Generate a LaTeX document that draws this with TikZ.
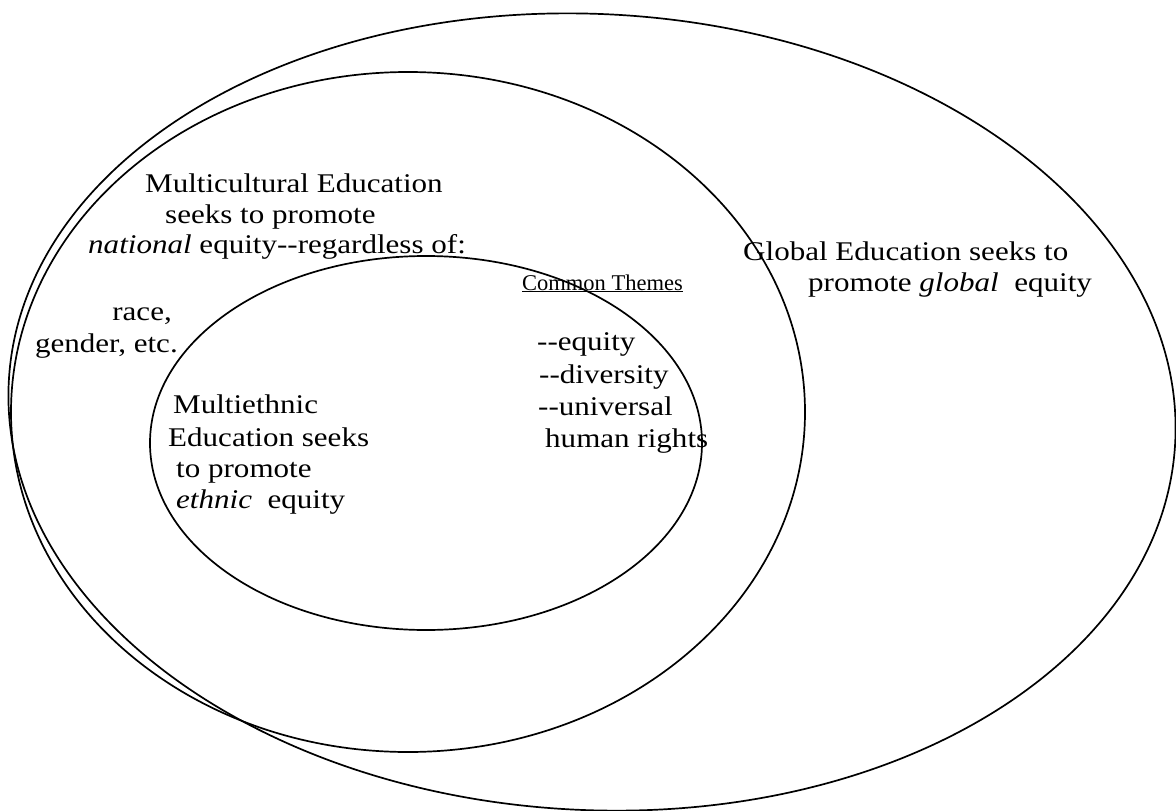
\documentclass[tikz,border=0pt]{standalone}
\usepackage{fontspec}
\setmainfont{Liberation Serif}[FakeStretch=1.15]
\newfontfamily\themefont{Liberation Serif}
\begin{document}
\begin{tikzpicture}[x=1pt,y=-1pt,
  ring/.style={draw=black,line width=1.7pt},
  txt/.style={anchor=base west,inner sep=0pt,font=\fontsize{27}{31}\selectfont},
  txtr/.style={txt,anchor=base east},
  theme/.style={anchor=base west,inner sep=0pt,font=\themefont\fontsize{22.5}{26}\selectfont}]
\useasboundingbox[fill=white] (0,0) rectangle (1176,811);

% nested spheres of education: global, multicultural, multiethnic
\draw[ring,rotate around={-3:(592,412)}] (592,412) ellipse [x radius=584pt, y radius=398pt];
\draw[ring] (408,412) ellipse [x radius=397pt, y radius=340pt];
\draw[ring] (426,443) ellipse [x radius=276pt, y radius=187pt];

% multicultural education
\node[txt] (mc1) at (145,192) {Multicultural Education};
\node[txt] (mc2) at (165,223) {seeks to promote};
\node[txt] (mc3) at (88,253) {\textit{national} equity-{}-regardless of:};
\node[txtr] (mc4) at (172,320) {race,};
\node[txtr] (mc5) at (178,352) {gender, etc.};

% multiethnic education
\node[txt] (me1) at (173,413) {Multiethnic};
\node[txt] (me2) at (168,446) {Education seeks};
\node[txt] (me3) at (176,477) {to promote};
\node[txt] (me4) at (176,508) {\textit{ethnic}\ \ equity};

% common themes
\node[theme] (ct) at (522,290) {\underline{Common Themes}};
\node[txt] (ct1) at (537,350) {-{}-equity};
\node[txt] (ct2) at (539,383) {-{}-diversity};
\node[txt] (ct3) at (538,415) {-{}-universal};
\node[txt] (ct4) at (545,447) {human rights};

% global education
\node[txt] (ge1) at (743,260) {Global Education seeks to};
\node[txt] (ge2) at (808,291) {promote \textit{global}\ \ equity};
\end{tikzpicture}
\end{document}
